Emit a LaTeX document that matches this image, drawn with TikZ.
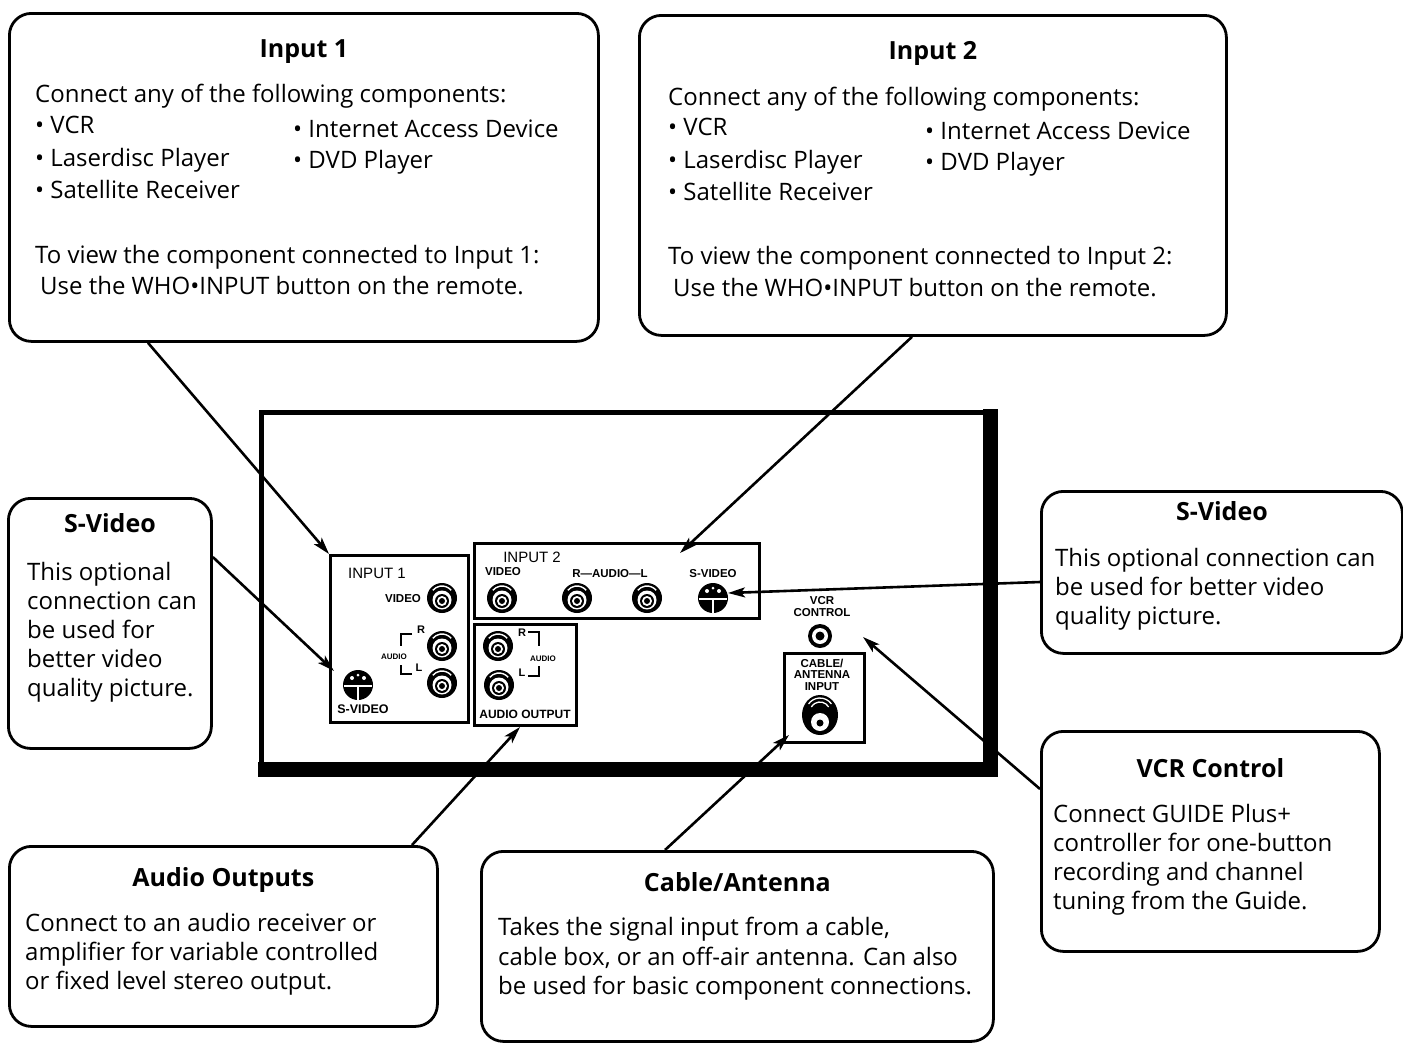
\documentclass[tikz,border=0pt]{standalone}
\usepackage{fontspec}
\setmainfont{Open Sans}
\newfontfamily\panelfont{Liberation Sans}
\usetikzlibrary{arrows.meta}

\tikzset{
    callout/.style={draw, line width=2.8pt, rounded corners=22pt, anchor=north west, inner sep=0pt},
    boxtitle/.style={anchor=base, inner sep=0pt, font=\fontsize{25}{30}\selectfont\bfseries},
    boxtext/.style={anchor=base west, inner sep=0pt, font=\fontsize{24}{32}\selectfont},
    subpanel/.style={draw, line width=3pt, anchor=north west, inner sep=0pt},
    plabel/.style={inner sep=0pt, font=\panelfont\fontsize{#1}{#1}\selectfont},
    plabel/.default=12,
    pointer/.style={line width=2.6pt, -{Stealth[length=17pt, width=10pt, inset=4pt]}},
}

% RCA jack: centre x, centre y
\NewDocumentCommand{\rcajack}{m m}{
    \def\jx{#1}
    \def\jy{#2}
    \fill (\jx,\jy) circle [radius=15pt];
    \draw[white, line width=1.4pt] (\jx,\jy) ++(40:12pt) arc [start angle=40, end angle=140, radius=12pt];
    \fill[white] (\jx,\jy+2) circle [radius=9.5pt];
    \fill (\jx,\jy+3) circle [radius=7pt];
    \fill[white] (\jx,\jy+3) circle [radius=5pt];
    \fill (\jx,\jy+3) circle [radius=3pt];
}

% S-video jack: centre x, centre y
\NewDocumentCommand{\svjack}{m m}{
    \def\jx{#1}
    \def\jy{#2}
    \fill (\jx,\jy) circle [radius=15pt];
    \draw[white, line width=1.6pt] (\jx-14,\jy+1) -- (\jx+14,\jy+1);
    \draw[white, line width=1.6pt] (\jx,\jy+1) -- (\jx,\jy+15);
    \fill[white] (\jx-6,\jy-7) circle [radius=2pt];
    \fill[white] (\jx+6,\jy-7) circle [radius=2pt];
    \fill[white] (\jx,\jy-10) circle [radius=1.5pt];
}

\begin{document}
\begin{tikzpicture}[x=1pt, y=-1pt]
    \useasboundingbox (0,0) rectangle (1403,1042);

    % callout boxes
    \node[callout, minimum width=589pt, minimum height=328pt] (in1) at (8,12) {};
    \node[callout, minimum width=587pt, minimum height=320pt] (in2) at (638,14) {};
    \node[callout, minimum width=203pt, minimum height=250pt] (sv1) at (7,497) {};
    \node[callout, minimum width=361pt, minimum height=162pt] (sv2) at (1040,490) {};
    \node[callout, minimum width=338pt, minimum height=220pt] (vcr) at (1040,730) {};
    \node[callout, minimum width=428pt, minimum height=180pt] (aud) at (8,845) {};
    \node[callout, minimum width=512pt, minimum height=190pt] (cab) at (480,850) {};

    % Input 1 text
    \node[boxtitle] (in1t) at (in1.north |- 0,57) {Input 1};
    \node[boxtext] (in1a) at (35,102) {Connect any of the following components:};
    \node[boxtext] (in1b) at (35,133) {• VCR};
    \node[boxtext] (in1c) at (293,137) {• Internet Access Device};
    \node[boxtext] (in1d) at (35,166) {• Laserdisc Player};
    \node[boxtext] (in1e) at (293,168) {• DVD Player};
    \node[boxtext] (in1f) at (35,198) {• Satellite Receiver};
    \node[boxtext] (in1g) at (35,263) {To view the component connected to Input 1:};
    \node[boxtext] (in1h) at (40,294) {Use the WHO•INPUT button on the remote.};

    % Input 2 text
    \node[boxtitle] (in2t) at (in2.north |- 0,59) {Input 2};
    \node[boxtext] (in2a) at (668,105) {Connect any of the following components:};
    \node[boxtext] (in2b) at (668,135) {• VCR};
    \node[boxtext] (in2c) at (925,139) {• Internet Access Device};
    \node[boxtext] (in2d) at (668,168) {• Laserdisc Player};
    \node[boxtext] (in2e) at (925,170) {• DVD Player};
    \node[boxtext] (in2f) at (668,200) {• Satellite Receiver};
    \node[boxtext] (in2g) at (668,264) {To view the component connected to Input 2:};
    \node[boxtext] (in2h) at (673,296) {Use the WHO•INPUT button on the remote.};

    % S-Video (left) text
    \node[boxtitle] (sv1t) at (sv1.north |- 0,532) {S-Video};
    \node[boxtext] (sv1a) at (27,580) {This optional};
    \node[boxtext] (sv1b) at (27,609) {connection can};
    \node[boxtext] (sv1c) at (27,638) {be used for};
    \node[boxtext] (sv1d) at (27,667) {better video};
    \node[boxtext] (sv1e) at (27,696) {quality picture.};

    % S-Video (right) text
    \node[boxtitle] (sv2t) at (sv2.north |- 0,520) {S-Video};
    \node[boxtext] (sv2a) at (1055,566) {This optional connection can};
    \node[boxtext] (sv2b) at (1055,595) {be used for better video};
    \node[boxtext] (sv2c) at (1055,624) {quality picture.};

    % VCR Control text
    \node[boxtitle] (vcrt) at (vcr.north |- 0,777) {VCR Control};
    \node[boxtext] (vcra) at (1053,822) {Connect GUIDE Plus+};
    \node[boxtext] (vcrb) at (1053,851) {controller for one-button};
    \node[boxtext] (vcrc) at (1053,880) {recording and channel};
    \node[boxtext] (vcrd) at (1053,909) {tuning from the Guide.};

    % Audio Outputs text
    \node[boxtitle] (audt) at (aud.north |- 0,886) {Audio Outputs};
    \node[boxtext] (auda) at (25,931) {Connect to an audio receiver or};
    \node[boxtext] (audb) at (25,960) {amplifier for variable controlled};
    \node[boxtext] (audc) at (25,989) {or fixed level stereo output.};

    % Cable/Antenna text
    \node[boxtitle] (cabt) at (cab.north |- 0,891) {Cable/Antenna};
    \node[boxtext] (caba) at (498,935) {Takes the signal input from a cable,};
    \node[boxtext] (cabb) at (498,965) {cable box, or an off-air antenna. Can also};
    \node[boxtext] (cabc) at (498,994) {be used for basic component connections.};

    % TV back panel
    \draw[line width=5pt] (261,412) rectangle (990,768);
    \fill (983,409) rectangle (998,777);
    \fill (258,762) rectangle (998,777);

    \node[subpanel, minimum width=138pt, minimum height=167pt] (pin1) at (329,554) {};
    \node[subpanel, minimum width=285pt, minimum height=75pt] (pin2) at (473,542) {};
    \node[subpanel, minimum width=102pt, minimum height=101pt] (pout) at (473,623) {};
    \node[subpanel, minimum width=80pt, minimum height=89pt] (pcab) at (783,652) {};

    % input 1 panel
    \node[plabel=15] (lin1) at (377,573) {INPUT 1};
    \node[plabel=11.5] (lvid1) at (403,599) {\bfseries VIDEO};
    \node[plabel=11] (lr1) at (421,630) {\bfseries R};
    \node[plabel=8] (laud1) at (394,657) {\bfseries AUDIO};
    \node[plabel=11] (ll1) at (419,668) {\bfseries L};
    \node[plabel=12.5] (lsv1) at (363,709) {\bfseries S-VIDEO};
    \draw[line width=2.6pt] (412,634) -- (401,634) -- (401,646);
    \draw[line width=2.6pt] (401,665) -- (401,674) -- (412,674);
    \rcajack{442}{598}
    \rcajack{442}{646}
    \rcajack{442}{683}
    \svjack{358}{685}

    % input 2 panel
    \node[plabel=15] (lin2) at (532,557) {INPUT 2};
    \node[plabel=11.5] (lvid2) at (503,572) {\bfseries VIDEO};
    \node[plabel=11.5] (laud2) at (610,574) {\bfseries R—AUDIO—L};
    \node[plabel=11.5] (lsv2) at (713,574) {\bfseries S-VIDEO};
    \rcajack{502}{598}
    \rcajack{577}{598}
    \rcajack{647}{598}
    \svjack{713}{598}

    % audio output panel
    \node[plabel=11] (lr3) at (522,633) {\bfseries R};
    \node[plabel=8] (laud3) at (543,659) {\bfseries AUDIO};
    \node[plabel=11] (ll3) at (522,673) {\bfseries L};
    \node[plabel=12] (lout) at (525,714) {\bfseries AUDIO OUTPUT};
    \draw[line width=2.6pt] (528,632) -- (539,632) -- (539,646);
    \draw[line width=2.6pt] (539,666) -- (539,676) -- (528,676);
    \rcajack{498}{646}
    \rcajack{499}{685}

    % VCR control and cable input
    \node[plabel=11.5] (lvcr1) at (822,601) {\bfseries VCR};
    \node[plabel=11.5] (lvcr2) at (822,613) {\bfseries CONTROL};
    \fill (820,636) circle [radius=12pt];
    \fill[white] (820,636) circle [radius=8pt];
    \fill (820,636) circle [radius=4.5pt];
    \node[plabel=11.5] (lcab1) at (822,663) {\bfseries CABLE/};
    \node[plabel=11.5] (lcab2) at (822,675) {\bfseries ANTENNA};
    \node[plabel=11.5] (lcab3) at (822,687) {\bfseries INPUT};
    \fill (820,715) ellipse [x radius=18pt, y radius=20pt];
    \draw[white, line width=1.3pt] (820,712) ++(35:14pt) arc [start angle=35, end angle=145, radius=14pt];
    \draw[white, line width=1.3pt] (820,712) ++(30:10pt) arc [start angle=30, end angle=150, radius=10pt];
    \fill[white] (820,722) circle [radius=9pt];
    \fill (820,723) circle [radius=3.5pt];

    % arrow tips
    \coordinate (tsv1) at (334,671);
    \coordinate (tin2) at (680,553);
    \coordinate (tsv2) at (728,593);
    \coordinate (tvcr) at (863,637);
    \coordinate (taud) at (520,727);
    \coordinate (tcab) at (789,735);

    % connectors
    \draw[pointer] (148,0 |- in1.south) -- (pin1.north west);
    \draw[pointer] (sv1.east |- 0,557) -- (tsv1);
    \draw[pointer] (912,0 |- in2.south) -- (tin2);
    \draw[pointer] (sv2.west |- 0,582) -- (tsv2);
    \draw[pointer] (vcr.west |- 0,789) -- (tvcr);
    \draw[pointer] (412,0 |- aud.north) -- (taud);
    \draw[pointer] (665,0 |- cab.north) -- (tcab);
\end{tikzpicture}
\end{document}
